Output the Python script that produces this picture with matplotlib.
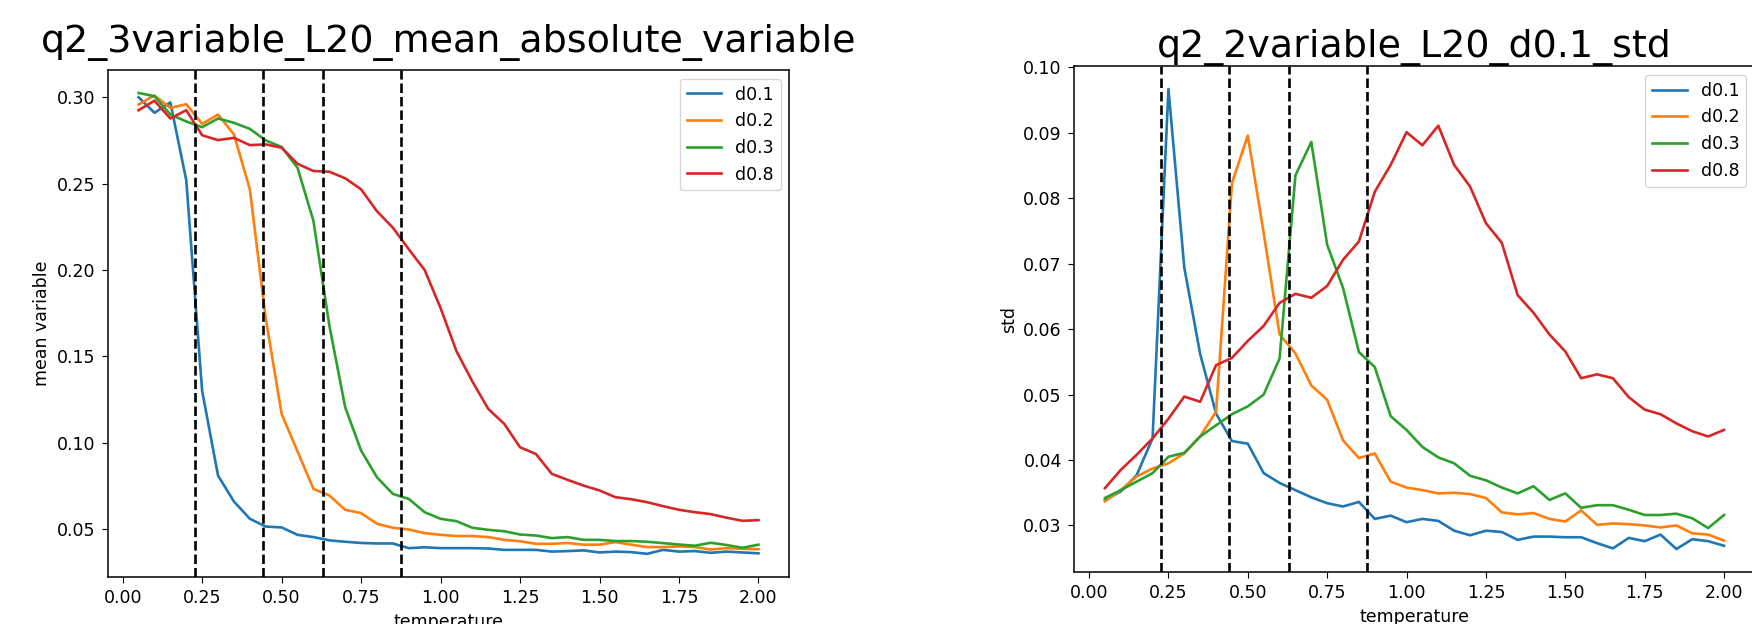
import matplotlib
matplotlib.use("Agg")
import matplotlib.pyplot as plt

# temperature grid
temperature = [0.05, 0.10, 0.15, 0.20, 0.25, 0.30, 0.35, 0.40, 0.45, 0.50,
               0.55, 0.60, 0.65, 0.70, 0.75, 0.80, 0.85, 0.90, 0.95, 1.00,
               1.05, 1.10, 1.15, 1.20, 1.25, 1.30, 1.35, 1.40, 1.45, 1.50,
               1.55, 1.60, 1.65, 1.70, 1.75, 1.80, 1.85, 1.90, 1.95, 2.00]

labels = ["d0.1", "d0.2", "d0.3", "d0.8"]
critical_temps = [0.227, 0.44, 0.63, 0.875]

# left panel: mean absolute variable
mean_d01 = [0.300, 0.291, 0.297, 0.252, 0.130, 0.081, 0.066, 0.056, 0.0515, 0.051,
            0.0467, 0.0454, 0.0435, 0.0427, 0.042, 0.0417, 0.0417, 0.039, 0.0395, 0.039,
            0.039, 0.039, 0.0388, 0.038, 0.038, 0.038, 0.037, 0.0373, 0.0377, 0.0365,
            0.037, 0.0367, 0.0357, 0.038, 0.037, 0.0373, 0.0363, 0.037, 0.0365, 0.036]
mean_d02 = [0.2958, 0.301, 0.2938, 0.296, 0.2846, 0.290, 0.2785, 0.2467, 0.172, 0.1167,
            0.095, 0.0733, 0.0695, 0.0612, 0.0593, 0.0531, 0.0508, 0.0498, 0.0477, 0.0467,
            0.046, 0.046, 0.0454, 0.0438, 0.043, 0.0415, 0.0415, 0.042, 0.041, 0.041,
            0.0425, 0.041, 0.0396, 0.0396, 0.040, 0.0396, 0.0382, 0.039, 0.0386, 0.0384]
mean_d03 = [0.3025, 0.3006, 0.290, 0.286, 0.2827, 0.2877, 0.2852, 0.2817, 0.275, 0.2712,
            0.2592, 0.2285, 0.168, 0.1205, 0.0955, 0.080, 0.0704, 0.0675, 0.0598, 0.056,
            0.0546, 0.0508, 0.0496, 0.0488, 0.0469, 0.0463, 0.0448, 0.0454, 0.0438, 0.0438,
            0.0431, 0.0431, 0.0427, 0.0419, 0.0411, 0.0404, 0.0421, 0.0408, 0.0392, 0.041]
mean_d08 = [0.2925, 0.298, 0.2877, 0.2925, 0.278, 0.2752, 0.2765, 0.2723, 0.2727, 0.2708,
            0.2615, 0.2573, 0.2569, 0.2531, 0.2467, 0.234, 0.2245, 0.212, 0.200, 0.178,
            0.153, 0.1355, 0.1196, 0.111, 0.0974, 0.0935, 0.082, 0.0785, 0.0752, 0.0724,
            0.0685, 0.0673, 0.0656, 0.0633, 0.0612, 0.0598, 0.0587, 0.0566, 0.0548, 0.0552]

# right panel: std
std_d01 = [0.0339, 0.0352, 0.0377, 0.0433, 0.0967, 0.0694, 0.0562, 0.0471, 0.0429, 0.0425,
           0.038, 0.0365, 0.0354, 0.0343, 0.0334, 0.0329, 0.0336, 0.031, 0.0315, 0.0305,
           0.031, 0.0307, 0.0292, 0.0285, 0.0292, 0.029, 0.0278, 0.0283, 0.0283, 0.0282,
           0.0282, 0.0273, 0.0265, 0.0281, 0.0276, 0.0286, 0.0264, 0.0279, 0.0276, 0.0269]
std_d02 = [0.0337, 0.0354, 0.0375, 0.0387, 0.0395, 0.041, 0.0436, 0.0474, 0.0823, 0.0896,
           0.0747, 0.0592, 0.0563, 0.0514, 0.0492, 0.043, 0.0403, 0.041, 0.0367, 0.0358,
           0.0354, 0.0349, 0.035, 0.0348, 0.0342, 0.032, 0.0317, 0.0319, 0.031, 0.0306,
           0.0323, 0.0301, 0.0303, 0.0302, 0.030, 0.0297, 0.030, 0.0288, 0.0286, 0.0277]
std_d03 = [0.0342, 0.0354, 0.0367, 0.038, 0.0405, 0.0411, 0.0436, 0.0453, 0.047, 0.0482,
           0.050, 0.0555, 0.0835, 0.0886, 0.0729, 0.0663, 0.0565, 0.0542, 0.0467, 0.0446,
           0.042, 0.0404, 0.0395, 0.0376, 0.0369, 0.0358, 0.0349, 0.036, 0.0339, 0.0349,
           0.0327, 0.0331, 0.0331, 0.0324, 0.0316, 0.0316, 0.0318, 0.0311, 0.0296, 0.0316]
std_d08 = [0.0357, 0.0385, 0.0408, 0.0433, 0.0463, 0.0497, 0.0489, 0.0545, 0.0556, 0.0582,
           0.0605, 0.064, 0.0654, 0.0648, 0.0666, 0.0706, 0.0734, 0.081, 0.0851, 0.0901,
           0.0881, 0.0911, 0.0851, 0.0818, 0.0762, 0.0732, 0.0652, 0.0625, 0.0592, 0.0566,
           0.0525, 0.0531, 0.0525, 0.0496, 0.0477, 0.047, 0.0456, 0.0444, 0.0436, 0.0446]

plt.rcParams["font.size"] = 12.5
plt.rcParams["xtick.major.size"] = 4.4
plt.rcParams["ytick.major.size"] = 4.4
plt.rcParams["xtick.major.pad"] = 4.4
plt.rcParams["ytick.major.pad"] = 4.4
plt.rcParams["axes.linewidth"] = 1.1

fig = plt.figure(figsize=(17.52, 6.24), dpi=100)
ax1 = fig.add_axes([0.0614, 0.0755, 0.3892, 0.8125])
ax2 = fig.add_axes([0.6130, 0.0833, 0.3887, 0.8109])

panels = [
    (ax1, [mean_d01, mean_d02, mean_d03, mean_d08],
     "q2_3variable_L20_mean_absolute_variable", "mean variable", 13.0),
    (ax2, [std_d01, std_d02, std_d03, std_d08],
     "q2_2variable_L20_d0.1_std", "std", 5.0),
]

for ax, series, title, ylabel, pad in panels:
    for values, label in zip(series, labels):
        ax.plot(temperature, values, linewidth=1.9, label=label)
    for tc in critical_temps:
        ax.axvline(tc, color="black", linestyle=(0, (3.6, 1.5)), linewidth=1.9)
    ax.set_title(title, fontsize=27.4, pad=pad)
    ax.set_xlabel("temperature")
    ax.set_ylabel(ylabel)
    ax.set_xticks([0.0, 0.25, 0.5, 0.75, 1.0, 1.25, 1.5, 1.75, 2.0])
    ax.legend(loc="upper right")

fig.savefig("out.png", dpi=100)
